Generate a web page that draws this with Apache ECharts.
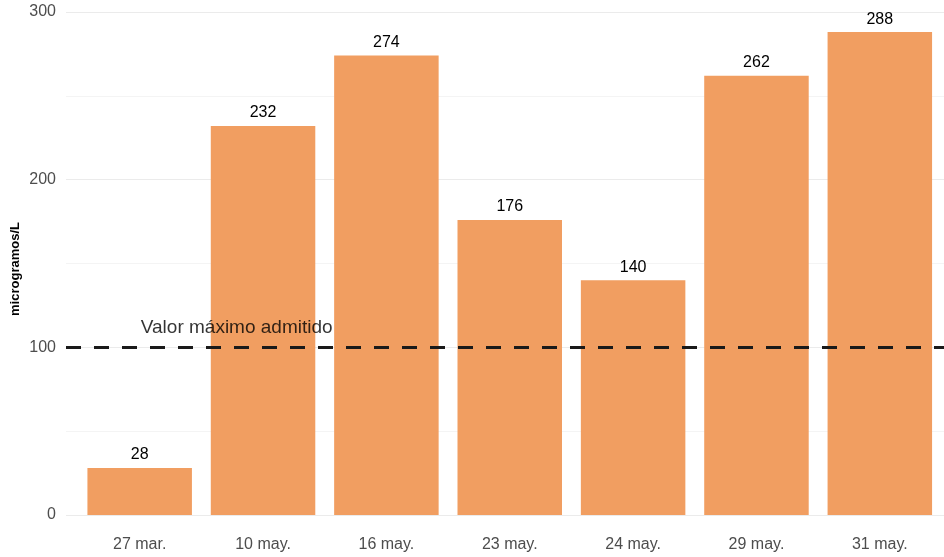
<!DOCTYPE html>
<html><head><meta charset="utf-8">
<script src="https://cdn.jsdelivr.net/npm/echarts@6/dist/echarts.min.js"></script>
<style>html,body{margin:0;padding:0;background:#fff}#c{width:944px;height:557px}</style>
</head><body><div id="c"></div>
<script>
const categories = ['27 mar.', '10 may.', '16 may.', '23 may.', '24 may.', '29 may.', '31 may.'];
const values = [28, 232, 274, 176, 140, 262, 288];
const limitValue = 100;
const limitLabel = 'Valor máximo admitido';
const yTicks = [0, 100, 200, 300];
const yTitle = 'microgramos/L';

const F = 'Liberation Sans, Arial, sans-serif';
const chart = echarts.init(document.getElementById('c'));
chart.setOption({
  animation: false,
  grid: [
    {left: 66, right: 0, top: 12, bottom: 42},
    {left: 78, width: 863.5, top: 12, bottom: 42}
  ],
  graphic: [{type: 'text', x: 15, y: 269, rotation: Math.PI / 2,
    style: {text: yTitle, fontWeight: 'bold', fontSize: 13, fill: '#000', fontFamily: F,
      align: 'center', verticalAlign: 'middle'}}],
  xAxis: [
    {gridIndex: 0, type: 'value', min: 0, max: 1, show: false},
    {gridIndex: 1, type: 'category', data: categories,
     axisLine: {show: false}, axisTick: {show: false},
     axisLabel: {color: '#4d4d4d', fontSize: 16, fontFamily: F, margin: 22}}
  ],
  yAxis: [
    {gridIndex: 0, type: 'value', min: yTicks[0], max: yTicks[yTicks.length-1], interval: 100,
     axisLine: {show: false}, axisTick: {show: false},
     axisLabel: {color: '#4d4d4d', fontSize: 16, fontFamily: F, margin: 10},
     splitLine: {lineStyle: {color: '#ebebeb', width: 1}},
     minorTick: {show: false, splitNumber: 2},
     minorSplitLine: {show: true, lineStyle: {color: '#f4f4f4', width: 1}}},
    {gridIndex: 1, type: 'value', min: 0, max: 300, show: false}
  ],
  series: [
    {type: 'bar', xAxisIndex: 1, yAxisIndex: 1, data: values, barWidth: 104.5,
     itemStyle: {color: '#F19E61'},
     label: {show: true, position: 'top', distance: 5, color: '#000', fontSize: 16, fontFamily: F}},
    {type: 'line', xAxisIndex: 0, yAxisIndex: 0, data: [], silent: true,
     markLine: {symbol: 'none', silent: true, label: {show: false},
       lineStyle: {color: '#1a1a1a', width: 3, type: [15, 13]},
       data: [{yAxis: limitValue}]}},
    {type: 'scatter', xAxisIndex: 1, yAxisIndex: 1, data: [[0, limitValue]], symbolSize: 0, silent: true,
     label: {show: true, formatter: limitLabel, position: 'top', offset: [97, -5],
       color: '#000', fontSize: 19, fontFamily: F}}
  ]
});
</script></body></html>
